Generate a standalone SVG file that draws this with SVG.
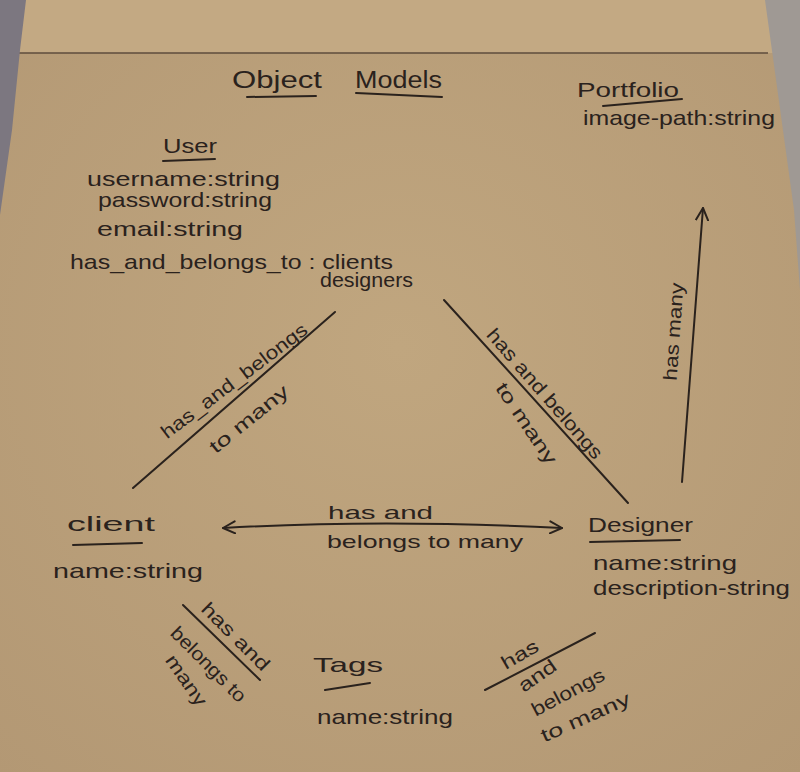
<svg xmlns="http://www.w3.org/2000/svg" width="800" height="772" viewBox="0 0 800 772">
  <defs>
    <style>
      .ink { fill: #2a221d; font-family: "Liberation Sans", "DejaVu Sans", sans-serif; font-size: 21px; }
      .title { font-size: 23px; }
      .lbl { font-size: 19px; }
      .stroke { stroke: #2a221d; stroke-width: 2; fill: none; stroke-linecap: round; }
    </style>
    <marker id="arrow" viewBox="0 0 14 14" refX="13" refY="7" markerWidth="14" markerHeight="14" markerUnits="userSpaceOnUse" orient="auto-start-reverse">
      <path d="M1,1 L13,7 L1,13" fill="none" stroke="#2a221d" stroke-width="2" stroke-linecap="round" stroke-linejoin="round"/>
    </marker>
    <radialGradient id="paper" cx="0.5" cy="0.45" r="0.75">
      <stop offset="0" stop-color="#c0a67f"/>
      <stop offset="1" stop-color="#b39874"/>
    </radialGradient>
  </defs>

  <g id="background">
    <rect x="0" y="0" width="800" height="772" fill="url(#paper)"/>
    <rect x="0" y="0" width="800" height="53" fill="#c3a983"/>
    <line x1="18" y1="53" x2="768" y2="53" stroke="#5e4c3c" stroke-width="1.5"/>
    <polygon points="0,0 26,0 20,50 12,130 0,215" fill="#7c7780"/>
    <polygon points="765,0 800,0 800,290 794,210" fill="#9f9994"/>
  </g>

  <g id="title">
    <text class="ink title" x="232" y="88" textLength="90" lengthAdjust="spacingAndGlyphs">Object</text>
    <text class="ink title" x="355" y="88" textLength="87" lengthAdjust="spacingAndGlyphs">Models</text>
    <path class="stroke" d="M247,97 L316,96"/>
    <path class="stroke" d="M356,93 L442,97"/>
  </g>

  <g id="node-portfolio">
    <text class="ink" x="577" y="97" textLength="102" lengthAdjust="spacingAndGlyphs">Portfolio</text>
    <path class="stroke" d="M603,106 L682,99"/>
    <text class="ink" x="583" y="125" textLength="192" lengthAdjust="spacingAndGlyphs">image-path:string</text>
  </g>

  <g id="node-user">
    <text class="ink" x="163" y="153" textLength="54" lengthAdjust="spacingAndGlyphs">User</text>
    <path class="stroke" d="M163,161 L215,159"/>
    <text class="ink" x="87" y="186" textLength="193" lengthAdjust="spacingAndGlyphs">username:string</text>
    <text class="ink" x="98" y="207" textLength="174" lengthAdjust="spacingAndGlyphs">password:string</text>
    <text class="ink" x="97" y="236" textLength="146" lengthAdjust="spacingAndGlyphs">email:string</text>
    <text class="ink" x="70" y="269" textLength="323" lengthAdjust="spacingAndGlyphs">has_and_belongs_to : clients</text>
    <text class="ink" x="320" y="287" textLength="93" lengthAdjust="spacingAndGlyphs">designers</text>
  </g>

  <g id="node-client">
    <text class="ink" x="67" y="531" textLength="88" lengthAdjust="spacingAndGlyphs">client</text>
    <path class="stroke" d="M73,545 L142,543"/>
    <text class="ink" x="53" y="578" textLength="150" lengthAdjust="spacingAndGlyphs">name:string</text>
  </g>

  <g id="node-designer">
    <text class="ink" x="588" y="532" textLength="105" lengthAdjust="spacingAndGlyphs">Designer</text>
    <path class="stroke" d="M590,542 L680,540"/>
    <text class="ink" x="593" y="570" textLength="144" lengthAdjust="spacingAndGlyphs">name:string</text>
    <text class="ink" x="593" y="595" textLength="197" lengthAdjust="spacingAndGlyphs">description-string</text>
  </g>

  <g id="node-tags">
    <text class="ink" x="313" y="672" textLength="70" lengthAdjust="spacingAndGlyphs">Tags</text>
    <path class="stroke" d="M325,690 L370,683"/>
    <text class="ink" x="317" y="724" textLength="136" lengthAdjust="spacingAndGlyphs">name:string</text>
  </g>

  <g id="connectors">
    <!-- User - client -->
    <path class="stroke" d="M133,488 L335,312"/>
    <text class="ink lbl" text-anchor="middle" transform="translate(238,386) rotate(-37)" textLength="178" lengthAdjust="spacingAndGlyphs">has_and_belongs</text>
    <text class="ink lbl" text-anchor="middle" transform="translate(253,424) rotate(-39)" textLength="96" lengthAdjust="spacingAndGlyphs">to many</text>

    <!-- User - Designer -->
    <path class="stroke" d="M444,300 L628,503"/>
    <text class="ink lbl" text-anchor="middle" transform="translate(540,398) rotate(49)" textLength="166" lengthAdjust="spacingAndGlyphs">has and belongs</text>
    <text class="ink lbl" text-anchor="middle" transform="translate(521,427) rotate(56)" textLength="94" lengthAdjust="spacingAndGlyphs">to many</text>

    <!-- client - Designer -->
    <path class="stroke" d="M223,528 Q380,519 562,528" marker-start="url(#arrow)" marker-end="url(#arrow)"/>
    <text class="ink lbl" x="328" y="519" textLength="105" lengthAdjust="spacingAndGlyphs">has and</text>
    <text class="ink lbl" x="327" y="548" textLength="196" lengthAdjust="spacingAndGlyphs">belongs to many</text>

    <!-- Designer - Portfolio -->
    <path class="stroke" d="M682,482 L703,208" marker-end="url(#arrow)"/>
    <text class="ink lbl" text-anchor="middle" transform="translate(680,332) rotate(-86)" textLength="98" lengthAdjust="spacingAndGlyphs">has many</text>

    <!-- client - Tags -->
    <path class="stroke" d="M183,605 L260,680"/>
    <text class="ink lbl" text-anchor="middle" transform="translate(231,641) rotate(45)" textLength="88" lengthAdjust="spacingAndGlyphs">has and</text>
    <text class="ink lbl" text-anchor="middle" transform="translate(204,669) rotate(45)" textLength="98" lengthAdjust="spacingAndGlyphs">belongs to</text>
    <text class="ink lbl" text-anchor="middle" transform="translate(181,684) rotate(55)" textLength="58" lengthAdjust="spacingAndGlyphs">many</text>

    <!-- Tags - Designer -->
    <path class="stroke" d="M485,690 L595,633"/>
    <text class="ink lbl" text-anchor="middle" transform="translate(523,660) rotate(-30)" textLength="40" lengthAdjust="spacingAndGlyphs">has</text>
    <text class="ink lbl" text-anchor="middle" transform="translate(541,681) rotate(-35)" textLength="42" lengthAdjust="spacingAndGlyphs">and</text>
    <text class="ink lbl" text-anchor="middle" transform="translate(571,698) rotate(-28)" textLength="80" lengthAdjust="spacingAndGlyphs">belongs</text>
    <text class="ink lbl" text-anchor="middle" transform="translate(588,723) rotate(-24)" textLength="96" lengthAdjust="spacingAndGlyphs">to many</text>
  </g>
</svg>
